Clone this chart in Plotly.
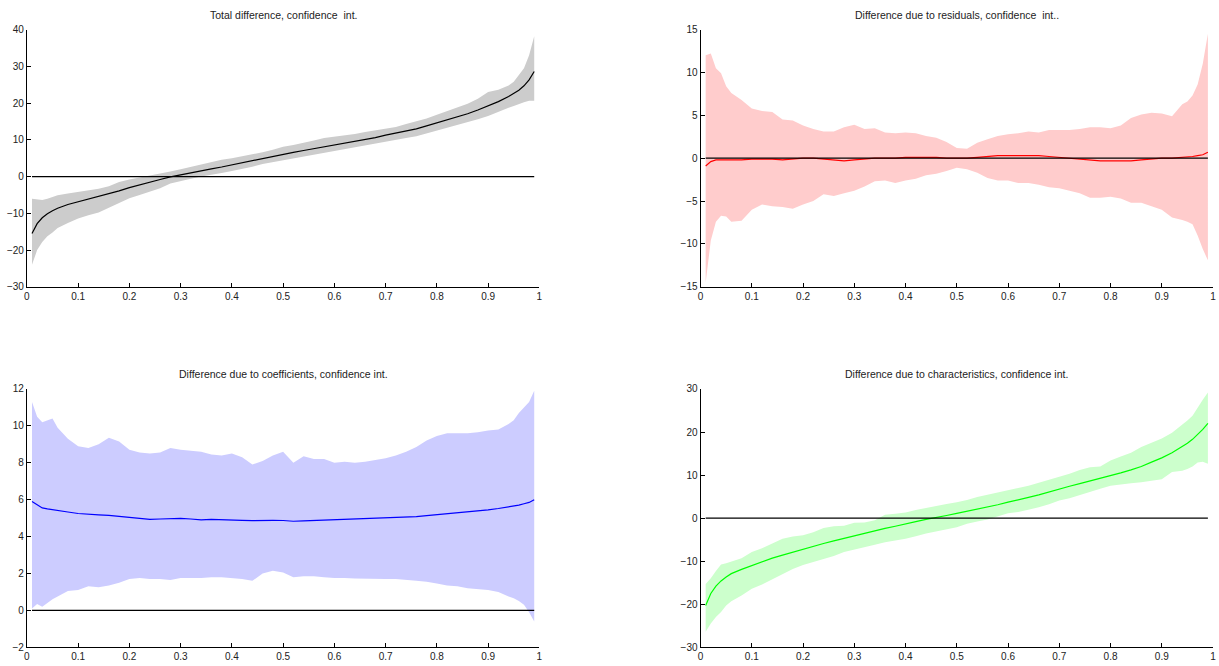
import plotly.graph_objects as go

# ---------------- data ----------------
X = [0.01, 0.02, 0.03, 0.04, 0.05, 0.06, 0.08, 0.10, 0.12, 0.14, 0.16, 0.18, 0.20,
     0.22, 0.24, 0.26, 0.28, 0.30, 0.32, 0.34, 0.36, 0.38, 0.40, 0.42, 0.44, 0.46,
     0.48, 0.50, 0.52, 0.54, 0.56, 0.58, 0.60, 0.62, 0.64, 0.66, 0.68, 0.70, 0.72,
     0.74, 0.76, 0.78, 0.80, 0.82, 0.84, 0.86, 0.88, 0.90, 0.92, 0.94, 0.95, 0.96,
     0.97, 0.98, 0.99]

total_mid = [-15.5, -12.8, -11.2, -10.1, -9.3, -8.6, -7.6, -6.9, -6.2, -5.5, -4.7, -3.9, -3.0,
             -2.2, -1.4, -0.8, -0.1, 0.5, 1.1, 1.6, 2.1, 2.6, 3.2, 3.7, 4.3, 4.9,
             5.5, 6.1, 6.6, 7.1, 7.6, 8.1, 8.5, 9.0, 9.5, 10.0, 10.6, 11.3, 11.8,
             12.4, 13.0, 13.8, 14.6, 15.4, 16.2, 17.1, 18.1, 19.2, 20.4, 21.8, 22.6, 23.5,
             24.7, 26.3, 28.6]
total_up = [-6.0, -6.1, -6.4, -6.0, -5.5, -5.1, -4.6, -4.2, -3.8, -3.3, -2.6, -1.5, -0.8,
            -0.3, 0.3, 0.9, 1.4, 2.0, 2.7, 3.2, 3.9, 4.6, 5.0, 5.5, 6.1, 6.6,
            7.3, 8.1, 8.6, 9.1, 9.8, 10.5, 10.8, 11.2, 11.6, 12.1, 12.6, 13.0, 13.5,
            14.3, 15.0, 15.8, 16.8, 17.8, 18.8, 19.8, 21.2, 23.0, 23.6, 24.8, 25.8, 27.5,
            29.5, 33.0, 38.2]
total_lo = [-24.0, -20.0, -17.8, -16.2, -15.2, -14.0, -12.6, -11.4, -10.5, -9.8, -8.6, -7.2, -5.9,
            -5.0, -4.2, -3.2, -1.9, -1.2, -0.6, 0.0, 0.6, 1.0, 1.5, 2.0, 2.7, 3.4,
            4.0, 4.5, 4.9, 5.4, 5.9, 6.5, 7.0, 7.4, 7.9, 8.5, 9.0, 9.5, 10.0,
            10.5, 11.0, 11.7, 12.5, 13.3, 14.0, 14.8, 15.6, 16.5, 17.5, 18.7, 19.2, 19.6,
            20.2, 20.6, 20.6]

resid_mid = [-0.9, -0.4, -0.2, -0.2, -0.2, -0.2, -0.2, -0.1, -0.1, -0.1, -0.2, -0.1, 0.0,
             0.0, -0.1, -0.2, -0.3, -0.2, -0.1, 0.0, 0.0, 0.0, 0.1, 0.1, 0.1, 0.1,
             0.0, 0.0, 0.0, 0.1, 0.2, 0.3, 0.3, 0.3, 0.3, 0.3, 0.2, 0.1, 0.0,
             -0.1, -0.2, -0.3, -0.3, -0.3, -0.3, -0.2, -0.1, 0.0, 0.0, 0.1, 0.1, 0.2,
             0.3, 0.4, 0.7]
resid_up = [12.0, 12.2, 10.5, 9.9, 8.4, 7.6, 6.8, 5.8, 5.5, 5.4, 4.5, 4.4, 3.8,
            3.4, 3.1, 3.1, 3.6, 3.9, 3.4, 3.5, 3.0, 2.9, 3.0, 2.9, 2.6, 2.4,
            1.9, 1.2, 1.1, 1.8, 2.2, 2.6, 2.8, 2.9, 3.1, 3.0, 3.3, 3.3, 3.3,
            3.4, 3.6, 3.6, 3.5, 3.8, 4.7, 5.1, 5.3, 5.2, 4.9, 6.3, 6.6, 7.3,
            8.6, 11.0, 14.5]
resid_lo = [-14.5, -9.6, -7.4, -6.7, -6.8, -7.4, -7.3, -6.0, -5.4, -5.6, -5.7, -5.9, -5.4,
            -5.0, -4.2, -4.4, -4.1, -3.8, -3.3, -2.7, -2.6, -2.9, -2.6, -2.4, -2.0, -1.8,
            -1.5, -1.1, -1.3, -1.7, -2.3, -2.6, -2.6, -2.9, -2.9, -3.1, -3.4, -3.5, -3.8,
            -4.1, -4.6, -4.6, -4.5, -4.7, -5.2, -5.2, -5.6, -6.0, -6.9, -7.2, -7.4, -7.7,
            -9.0, -10.6, -11.9]

coef_mid = [5.9, 5.7, 5.55, 5.5, 5.45, 5.4, 5.33, 5.25, 5.2, 5.18, 5.15, 5.1, 5.02,
            4.97, 4.93, 4.95, 4.97, 4.98, 4.95, 4.9, 4.93, 4.92, 4.93, 4.88, 4.86, 4.89,
            4.88, 4.87, 4.83, 4.85, 4.87, 4.88, 4.89, 4.9, 4.92, 4.94, 4.96, 4.98, 5.0,
            5.04, 5.08, 5.13, 5.18, 5.22, 5.27, 5.32, 5.38, 5.45, 5.52, 5.6, 5.63, 5.7,
            5.78, 5.85, 6.0]
coef_up = [11.3, 10.5, 10.2, 10.3, 10.4, 9.9, 9.3, 8.9, 8.8, 9.0, 9.35, 9.15, 8.7,
           8.55, 8.5, 8.55, 8.8, 8.7, 8.65, 8.6, 8.45, 8.4, 8.5, 8.3, 7.9, 8.1,
           8.4, 8.6, 8.0, 8.35, 8.2, 8.2, 8.0, 8.05, 8.0, 8.05, 8.15, 8.25, 8.4,
           8.6, 8.85, 9.2, 9.45, 9.6, 9.6, 9.6, 9.65, 9.75, 9.8, 10.1, 10.3, 10.7,
           11.0, 11.3, 11.9]
coef_lo = [0.1, 0.35, 0.2, 0.4, 0.6, 0.75, 1.05, 1.1, 1.3, 1.25, 1.35, 1.5, 1.7,
           1.75, 1.7, 1.7, 1.65, 1.75, 1.75, 1.75, 1.8, 1.8, 1.75, 1.7, 1.6, 2.0,
           2.15, 2.05, 1.8, 1.85, 1.85, 1.8, 1.75, 1.75, 1.72, 1.7, 1.7, 1.7, 1.7,
           1.65, 1.6, 1.55, 1.45, 1.35, 1.3, 1.2, 1.15, 1.1, 1.0, 0.75, 0.65, 0.5,
           0.3, -0.1, -0.6]

char_mid = [-20.3, -17.5, -15.8, -14.6, -13.7, -12.9, -11.9, -11.0, -10.1, -9.3, -8.6, -7.9, -7.2,
            -6.5, -5.9, -5.3, -4.7, -4.1, -3.6, -3.0, -2.4, -1.9, -1.3, -0.8, -0.3, 0.1,
            0.6, 1.1, 1.6, 2.0, 2.5, 3.1, 3.7, 4.2, 4.8, 5.4, 6.1, 6.8, 7.4,
            8.0, 8.6, 9.2, 9.8, 10.5, 11.2, 12.0, 13.0, 14.0, 15.2, 16.6, 17.4, 18.3,
            19.4, 20.6, 22.0]
char_up = [-15.3, -14.0, -12.3, -10.8, -10.5, -10.1, -9.3, -7.9, -7.0, -5.9, -4.8, -4.3, -4.0,
           -3.3, -2.3, -1.9, -1.8, -1.1, -1.0, -0.5, 0.8, 1.0, 1.3, 1.9, 2.4, 2.9,
           3.3, 3.7, 4.2, 4.9, 5.4, 5.9, 6.4, 6.9, 7.5, 8.2, 8.9, 9.6, 10.3,
           11.2, 11.8, 12.0, 13.4, 14.3, 15.2, 16.5, 17.5, 18.5, 19.8, 21.6, 22.7, 23.8,
           25.8, 27.5, 29.2]
char_lo = [-26.4, -24.5, -23.0, -21.8, -20.3, -19.3, -18.0, -16.4, -15.4, -14.2, -13.0, -11.8, -10.9,
           -10.2, -9.5, -8.8, -7.9, -7.3, -6.8, -6.2, -5.6, -5.2, -4.8, -4.2, -3.6, -3.0,
           -2.6, -2.1, -1.3, -0.8, -0.3, 0.4, 1.1, 1.4, 1.9, 2.5, 3.2, 4.1, 4.6,
           5.4, 6.1, 6.8, 7.5, 7.8, 8.1, 8.3, 8.6, 9.0, 10.7, 11.0, 11.4, 12.0,
           12.9, 13.1, 12.6]

ZERO = 0

TITLES = ["Total difference, confidence  int.",
          "Difference due to residuals, confidence  int..",
          "Difference due to coefficients, confidence int.",
          "Difference due to characteristics, confidence int."]

X_TICKS = [0, 0.1, 0.2, 0.3, 0.4, 0.5, 0.6, 0.7, 0.8, 0.9, 1]
Y_TICKS = [[-30, -20, -10, 0, 10, 20, 30, 40],
           [-15, -10, -5, 0, 5, 10, 15],
           [-2, 0, 2, 4, 6, 8, 10, 12],
           [-30, -20, -10, 0, 10, 20, 30]]

# ---------------- styles ----------------
W, H = 1219, 666
panels = [
    dict(mid=total_mid, up=total_up, lo=total_lo, band="rgb(204,204,204)", line="rgb(0,0,0)"),
    dict(mid=resid_mid, up=resid_up, lo=resid_lo, band="rgb(255,204,204)", line="rgb(255,0,0)"),
    dict(mid=coef_mid, up=coef_up, lo=coef_lo, band="rgb(204,204,255)", line="rgb(0,0,255)"),
    dict(mid=char_mid, up=char_up, lo=char_lo, band="rgb(204,255,204)", line="rgb(0,255,0)"),
]
# pixel boxes (left, right, top, bottom)
boxes = [(24, 539, 24, 286), (701, 1216, 24, 286),
         (24, 539, 390, 653), (701, 1216, 390, 653)]

fig = go.Figure()
layout = dict(width=W, height=H, margin=dict(l=0, r=0, t=0, b=0),
              paper_bgcolor="white", plot_bgcolor="white", showlegend=False,
              font=dict(family="Liberation Sans, Arial, sans-serif", size=10, color="#222"))
annotations = []

for i, (p, box) in enumerate(zip(panels, boxes)):
    n = i + 1
    xa = "x" if n == 1 else f"x{n}"
    ya = "y" if n == 1 else f"y{n}"
    # band
    fig.add_trace(go.Scatter(x=X + X[::-1], y=p["up"] + p["lo"][::-1], fill="toself",
                             fillcolor=p["band"], line=dict(width=0), mode="lines",
                             hoverinfo="skip", xaxis=xa, yaxis=ya))
    # estimate line
    fig.add_trace(go.Scatter(x=X, y=p["mid"], mode="lines",
                             line=dict(color=p["line"], width=1.2), xaxis=xa, yaxis=ya))
    # zero reference line
    fig.add_trace(go.Scatter(x=X, y=[ZERO] * len(X), mode="lines",
                             line=dict(color="black", width=1.2), xaxis=xa, yaxis=ya))

    l, r, t, b = box
    xdom = [l / W, r / W]
    ydom = [1 - b / H, 1 - t / H]
    yt = Y_TICKS[i]
    axis_common = dict(showline=True, linecolor="black", linewidth=1, ticks="inside",
                       ticklen=4, tickcolor="black", tickwidth=1, showgrid=False,
                       zeroline=False, tickfont=dict(size=10, color="#222"))
    layout["xaxis" if n == 1 else f"xaxis{n}"] = dict(
        domain=xdom, range=[0, 1], tickvals=X_TICKS,
        ticktext=[("%g" % v) for v in X_TICKS], anchor=ya, **axis_common)
    layout["yaxis" if n == 1 else f"yaxis{n}"] = dict(
        domain=ydom, range=[yt[0], yt[-1]], tickvals=yt, anchor=xa, **axis_common)
    annotations.append(dict(text=TITLES[i], xref="paper", yref="paper",
                            x=(l + r) / 2 / W, y=1 - (t - 7) / H, xanchor="center",
                            yanchor="bottom", showarrow=False,
                            font=dict(size=10.5, color="#222")))

layout["annotations"] = annotations
fig.update_layout(**layout)
fig.write_html("out.html")
